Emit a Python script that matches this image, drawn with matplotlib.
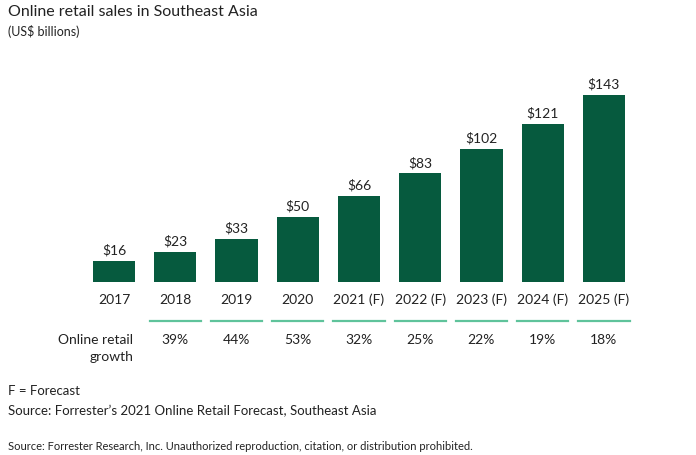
import matplotlib
matplotlib.use("Agg")
import matplotlib.pyplot as plt

categories = ["2017", "2018", "2019", "2020", "2021 (F)", "2022 (F)", "2023 (F)", "2024 (F)", "2025 (F)"]
sales = [16, 23, 33, 50, 66, 83, 102, 121, 143]
growth = ["", "39%", "44%", "53%", "32%", "25%", "22%", "19%", "18%"]

plt.rcParams["font.family"] = "Lato"
W, H = 696, 456
fig = plt.figure(figsize=(W/100, H/100), dpi=100)
x0, x1 = 83.5, 634.5
ybase, ytop = 283, 96
ax = fig.add_axes([x0/W, 1-ybase/H, (x1-x0)/W, (ybase-ytop)/H])
xs = range(len(categories))
ax.bar(xs, sales, width=0.69, color="#065a3e")
ax.set_xlim(-0.5, len(categories)-0.5)
ax.set_ylim(0, 143)
ax.axis("off")
for i, v in enumerate(sales):
    ax.text(i, v + 4, f"${v}", ha="center", va="bottom", fontsize=10, color="#222222")
    ax.text(i, -13, categories[i], ha="center", va="center", fontsize=10, color="#222222")
    if growth[i]:
        ax.plot([i-0.42, i+0.42], [-29.5, -29.5], color="#5fc39b", lw=1.6, clip_on=False)
        ax.text(i, -43.5, growth[i], ha="center", va="center", fontsize=10, color="#222222")

fig.text(133/W, 1-340/H, "Online retail", ha="right", va="center", fontsize=10, color="#222222")
fig.text(90/W, 1-357/H, "growth", ha="left", va="center", fontsize=10, color="#222222")
fig.text(8/W, 1-12/H, "Online retail sales in Southeast Asia", ha="left", va="center", fontsize=11.5, color="#222222")
fig.text(8/W, 1-32/H, "(US$ billions)", ha="left", va="center", fontsize=9, color="#222222")
fig.text(8/W, 1-391/H, "F = Forecast", ha="left", va="center", fontsize=9.5, color="#222222")
fig.text(8/W, 1-411/H, "Source: Forrester\u2019s 2021 Online Retail Forecast, Southeast Asia", ha="left", va="center", fontsize=9.5, color="#222222")
fig.text(8/W, 1-447/H, "Source: Forrester Research, Inc. Unauthorized reproduction, citation, or distribution prohibited.", ha="left", va="center", fontsize=8, color="#222222")
fig.savefig("out.png", dpi=100)
